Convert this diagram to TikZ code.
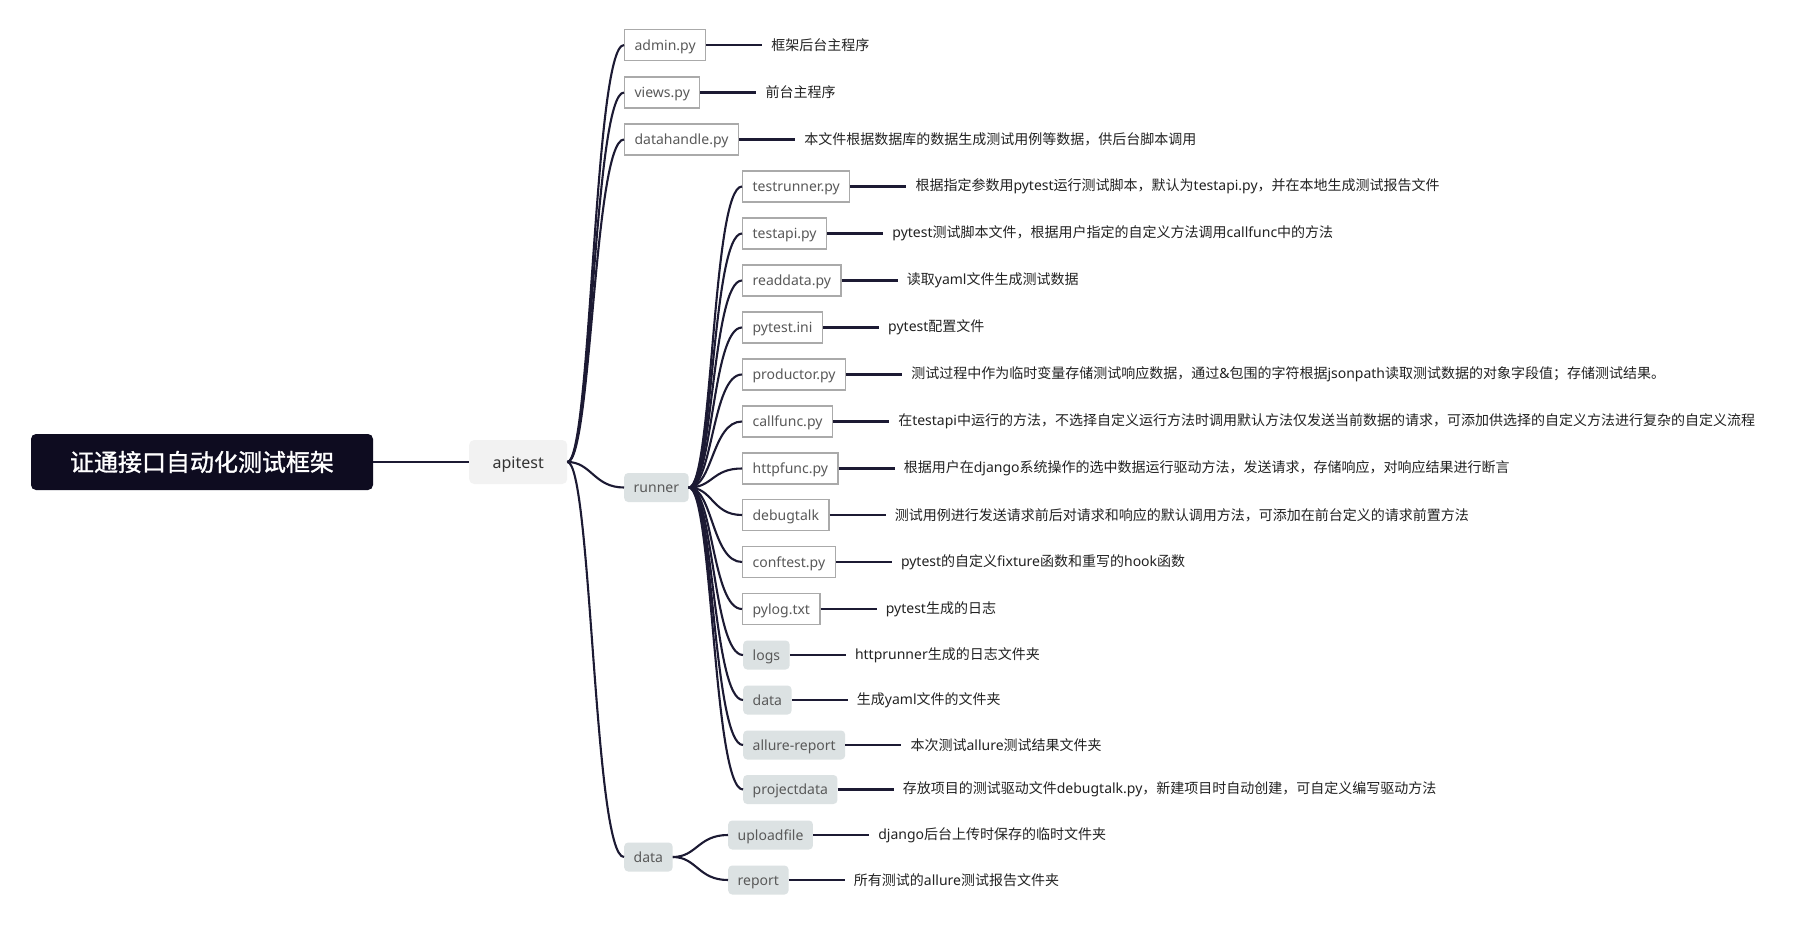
\documentclass[tikz,border=0pt]{standalone}
\usepackage{fontspec}
\setmainfont{Noto Sans}
\newfontfamily\cjkfont{Noto Sans CJK SC}
\newfontfamily\latfont{Noto Sans}
\newfontfamily\cjkroot{Noto Sans CJK SC}[FakeBold=1.2]
\XeTeXinterchartokenstate=1
\newXeTeXintercharclass\zhclass
\makeatletter
\count@="4E00
\loop
  \XeTeXcharclass\count@=\zhclass
  \ifnum\count@<"9FFF \advance\count@ 1
\repeat
\makeatother
\XeTeXcharclass"FF0C=\zhclass
\XeTeXcharclass"FF1B=\zhclass
\XeTeXcharclass"3002=\zhclass
\XeTeXinterchartoks 0 \zhclass={\cjkfont}
\XeTeXinterchartoks 4095 \zhclass={\cjkfont}
\XeTeXinterchartoks \zhclass 0={\latfont}
\XeTeXinterchartoks \zhclass 4095={\latfont}
\definecolor{rootbg}{HTML}{0E0C20}
\definecolor{apibg}{HTML}{F2F2F2}
\definecolor{graybg}{HTML}{DCE2E3}
\definecolor{boxgray}{HTML}{AAAAAA}
\definecolor{nodetext}{HTML}{595959}
\definecolor{labtext}{HTML}{222222}
\definecolor{linec}{HTML}{1C1A33}
\newcommand{\fs}{\fontsize{14}{17}\selectfont}
\tikzset{
  fbox/.style={draw=boxgray, line width=1.2pt, fill=white, minimum height=31pt,
    inner xsep=10pt, inner ysep=0pt, text height=10.8pt, text depth=0pt,
    anchor=west, text=nodetext, font=\fs},
  gbox/.style={fill=graybg, rounded corners=4pt, minimum height=29pt,
    inner xsep=9.5pt, inner ysep=0pt, text height=10.5pt, text depth=0pt,
    anchor=west, text=nodetext, font=\fs},
  lab/.style={anchor=west, inner xsep=9pt, inner ysep=0pt, text=labtext, font=\fs},
  conn/.style={draw=linec, line width=2.1pt},
  rootbox/.style={fill=rootbg, rounded corners=5pt, minimum width=342pt,
    minimum height=56pt, text=white,
    font={\XeTeXinterchartokenstate=0 \cjkroot\fontsize{24}{28}\selectfont}},
  apibox/.style={fill=apibg, rounded corners=5pt, minimum width=98pt,
    minimum height=44pt, text height=12pt, text depth=0pt, anchor=west,
    text=black!80, font=\fontsize{16}{19}\selectfont}
}
\begin{document}
\begin{tikzpicture}[x=1pt,y=-1pt]
\useasboundingbox[fill=white] (0,0) rectangle (1795,925);
% root and level 1
\node[rootbox] (root) at (202,462) {证通接口自动化测试框架};
\node[apibox] (api) at (469,462) {apitest};
\draw[conn] (root.east) -- (api.west);
% level 2
\node[fbox] (admin) at (624,45) {admin.py};
\node[fbox] (views) at (624,92.5) {views.py};
\node[fbox] (dh) at (624,139.5) {datahandle.py};
\node[gbox] (runner) at (624,487.5) {runner};
\node[gbox] (data) at (624,857) {data};
\foreach \n in {admin,views,dh,runner,data}
  \draw[conn] (api.east) .. controls +(24,0) and +(-30,0) .. (\n.west);
% runner children
\node[fbox] (r1) at (742,186.5) {testrunner.py};
\node[fbox] (r2) at (742,233.5) {testapi.py};
\node[fbox] (r3) at (742,280.5) {readdata.py};
\node[fbox] (r4) at (742,327.5) {pytest.ini};
\node[fbox] (r5) at (742,374.5) {productor.py};
\node[fbox] (r6) at (742,421.5) {callfunc.py};
\node[fbox] (r7) at (742,468.5) {httpfunc.py};
\node[fbox] (r8) at (742,515) {debugtalk};
\node[fbox] (r9) at (742,562) {conftest.py};
\node[fbox] (r10) at (742,609) {pylog.txt};
\node[gbox] (r11) at (743,655) {logs};
\node[gbox] (r12) at (743,700) {data};
\node[gbox] (r13) at (743,745) {allure-report};
\node[gbox] (r14) at (743,789.5) {projectdata};
\foreach \n in {r1,r2,r3,r4,r5,r6,r7,r8,r9,r10,r11,r12,r13,r14}
  \draw[conn] (runner.east) .. controls +(24,0) and +(-30,0) .. (\n.west);
% data children
\node[gbox] (d1) at (728,835) {uploadfile};
\node[gbox] (d2) at (728,880) {report};
\foreach \n in {d1,d2}
  \draw[conn] (data.east) .. controls +(24,0) and +(-30,0) .. (\n.west);
% labels
\node[lab] (ladmin) at ([xshift=56pt]admin.east) {框架后台主程序};
\node[lab] (lviews) at ([xshift=56pt]views.east) {前台主程序};
\node[lab] (ldh) at ([xshift=56pt]dh.east) {本文件根据数据库的数据生成测试用例等数据，供后台脚本调用};
\node[lab] (l1) at ([xshift=56pt]r1.east) {根据指定参数用pytest运行测试脚本，默认为testapi.py，并在本地生成测试报告文件};
\node[lab] (l2) at ([xshift=56pt]r2.east) {pytest测试脚本文件，根据用户指定的自定义方法调用callfunc中的方法};
\node[lab] (l3) at ([xshift=56pt]r3.east) {读取yaml文件生成测试数据};
\node[lab] (l4) at ([xshift=56pt]r4.east) {pytest配置文件};
\node[lab] (l5) at ([xshift=56pt]r5.east) {测试过程中作为临时变量存储测试响应数据，通过\&包围的字符根据jsonpath读取测试数据的对象字段值；存储测试结果。};
\node[lab] (l6) at ([xshift=56pt]r6.east) {在testapi中运行的方法，不选择自定义运行方法时调用默认方法仅发送当前数据的请求，可添加供选择的自定义方法进行复杂的自定义流程};
\node[lab] (l7) at ([xshift=56pt]r7.east) {根据用户在django系统操作的选中数据运行驱动方法，发送请求，存储响应，对响应结果进行断言};
\node[lab] (l8) at ([xshift=56pt]r8.east) {测试用例进行发送请求前后对请求和响应的默认调用方法，可添加在前台定义的请求前置方法};
\node[lab] (l9) at ([xshift=56pt]r9.east) {pytest的自定义fixture函数和重写的hook函数};
\node[lab] (l10) at ([xshift=56pt]r10.east) {pytest生成的日志};
\node[lab] (l11) at ([xshift=56pt]r11.east) {httprunner生成的日志文件夹};
\node[lab] (l12) at ([xshift=56pt]r12.east) {生成yaml文件的文件夹};
\node[lab] (l13) at ([xshift=56pt]r13.east) {本次测试allure测试结果文件夹};
\node[lab] (l14) at ([xshift=56pt]r14.east) {存放项目的测试驱动文件debugtalk.py，新建项目时自动创建，可自定义编写驱动方法};
\node[lab] (ld1) at ([xshift=56pt]d1.east) {django后台上传时保存的临时文件夹};
\node[lab] (ld2) at ([xshift=56pt]d2.east) {所有测试的allure测试报告文件夹};
\foreach \b/\l in {admin/ladmin,views/lviews,dh/ldh,r1/l1,r2/l2,r3/l3,r4/l4,r5/l5,r6/l6,r7/l7,r8/l8,r9/l9,r10/l10,r11/l11,r12/l12,r13/l13,r14/l14,d1/ld1,d2/ld2}
  \draw[conn] (\b.east) -- (\l.west);
\end{tikzpicture}
\end{document}
